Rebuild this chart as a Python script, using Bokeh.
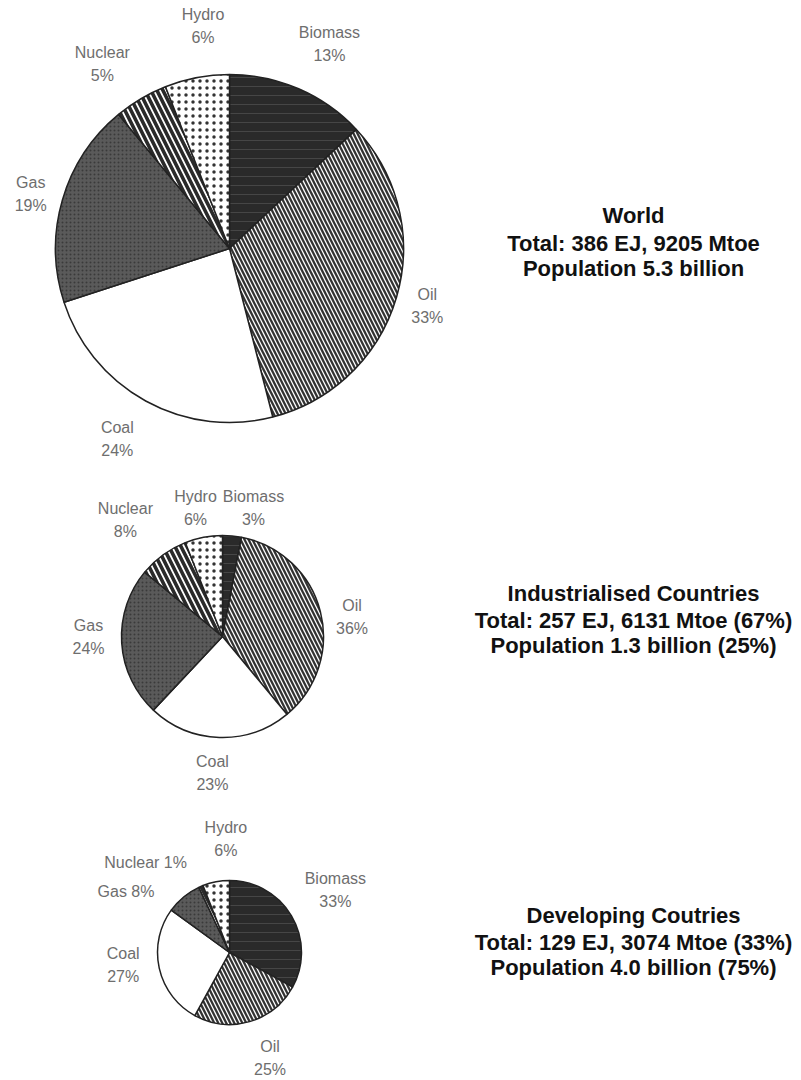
import numpy as np
from bokeh.plotting import figure
from bokeh.models import Range1d, ColumnDataSource
from bokeh.embed import file_html
from bokeh.resources import INLINE
from bokeh.core.properties import value

# ---------------- data ----------------
sources = ["Biomass", "Oil", "Coal", "Gas", "Nuclear", "Hydro"]
world_share = [13, 33, 24, 19, 5, 6]
industrialised_share = [3, 36, 23, 24, 8, 6]
developing_share = [33, 25, 27, 8, 1, 6]

chart_titles = ["World", "Industrialised Countries", "Developing Coutries"]
chart_totals = ["Total: 386 EJ, 9205 Mtoe",
                "Total: 257 EJ, 6131 Mtoe (67%)",
                "Total: 129 EJ, 3074 Mtoe (33%)"]
chart_populations = ["Population 5.3 billion",
                     "Population 1.3 billion (25%)",
                     "Population 4.0 billion (75%)"]

# ---------------- styles ----------------
W, H = 801, 1080
fill_colors = ["#2a2a2a", "#ffffff", "#ffffff", "#5a5a5a", "#ffffff", "#ffffff"]
hatch_patterns = ["horizontal_line", "left_diagonal_line", " ", "dot", "left_diagonal_line", "dot"]
hatch_colors = ["#464646", "#333333", "#ffffff", "#3a3a3a", "#2a2a2a", "#333333"]
hatch_scales = [9, 8, 8, 4, 12, 7]
hatch_weights = [1, 2.3, 1, 1.2, 3.6, 2.6]

# layout (pixel coords from top-left): centre x, centre y, radius
pie_layout = [(229, 248, 174), (222, 636, 101), (229, 952, 72)]
# label placement: (angle nudge deg, distance px, single line?)
label_layout = [
    [(2.6, 228, False), (0, 206, False), (1.7, 221, False), (-1, 206, False), (-4, 224, False), (4, 224, False)],
    [(8.2, 132, False), (5.7, 131, False), (2.4, 137, False), (3.6, 134, False), (-3.7, 152, False), (-1.1, 131, False)],
    [(0, 123, False), (-4.8, 113, False), (6, 107, False), (-20, 120, True), (-19.6, 123, True), (9, 114, False)],
]
text_block_x = 633
text_block_y = [(215, 243, 268), (593, 620, 645), (915, 942, 967)]

def Y(py):
    return H - py

p = figure(width=W, height=H, x_range=Range1d(0, W), y_range=Range1d(0, H),
           output_backend="svg", toolbar_location=None, min_border=0)
p.axis.visible = False
p.grid.visible = False
p.outline_line_color = None
p.background_fill_color = "white"
p.border_fill_color = "white"

label_font = value("Liberation Sans")
all_shares = [world_share, industrialised_share, developing_share]

for ci, shares in enumerate(all_shares):
    cx, cy, r = pie_layout[ci]
    frac = np.array(shares, dtype=float) / np.sum(shares)
    cum = np.concatenate([[0], np.cumsum(frac)])
    start = np.pi / 2 - 2 * np.pi * cum[:-1]
    end = np.pi / 2 - 2 * np.pi * cum[1:]
    src = ColumnDataSource(dict(
        x=[cx] * len(shares), y=[Y(cy)] * len(shares),
        start=start, end=end,
        fill=fill_colors, hp=hatch_patterns, hc=hatch_colors,
        hs=hatch_scales, hw=hatch_weights))
    p.wedge(x="x", y="y", radius=r, start_angle="start", end_angle="end",
            direction="clock", source=src, fill_color="fill",
            hatch_pattern="hp", hatch_color="hc", hatch_scale="hs", hatch_weight="hw",
            line_color="#222222", line_width=1.5)

    # labels
    mids = (cum[:-1] + cum[1:]) / 2 * 360.0
    lx, ly, lt = [], [], []
    for i, name in enumerate(sources):
        nudge, dist, single = label_layout[ci][i]
        th = np.radians(mids[i] + nudge)
        px = cx + dist * np.sin(th)
        py = cy - dist * np.cos(th)
        pct = f"{shares[i]}%"
        if single:
            lx.append(px); ly.append(Y(py)); lt.append(f"{name} {pct}")
        else:
            lx.append(px); ly.append(Y(py - 11.5)); lt.append(name)
            lx.append(px); ly.append(Y(py + 11.5)); lt.append(pct)
    p.text(x=lx, y=ly, text=lt, text_align="center", text_baseline="middle",
           text_font=label_font, text_font_size="16px", text_color="#6e6e6e")

    # right-hand description block
    ty = text_block_y[ci]
    p.text(x=[text_block_x] * 3, y=[Y(t) for t in ty],
           text=[chart_titles[ci], chart_totals[ci], chart_populations[ci]],
           text_align="center", text_baseline="middle",
           text_font=label_font, text_font_style="bold", text_font_size="22px",
           text_color="#111111")

open("out.html", "w").write(file_html(p, INLINE))
